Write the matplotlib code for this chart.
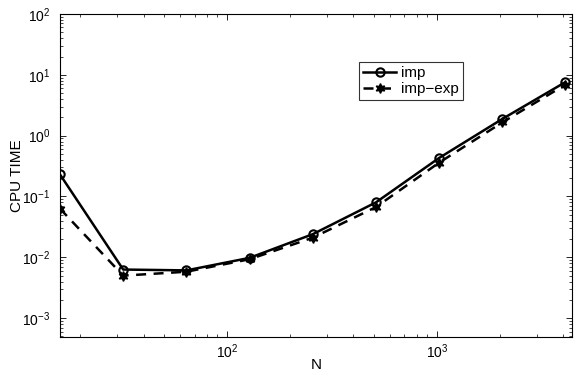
import numpy as np
import matplotlib
matplotlib.use('Agg')
import matplotlib.pyplot as plt
from matplotlib.ticker import LogLocator, NullFormatter

plt.rcParams['font.family'] = ['Liberation Sans', 'DejaVu Sans']
plt.rcParams['mathtext.fontset'] = 'custom'
plt.rcParams['mathtext.rm'] = 'Liberation Sans'

N = [16, 32, 64, 128, 256, 512, 1024, 2048, 4096]
t_imp = [0.23, 0.0063, 0.0061, 0.0098, 0.024, 0.080, 0.43, 1.88, 7.6]
t_imp_exp = [0.063, 0.0050, 0.0058, 0.0093, 0.021, 0.067, 0.36, 1.65, 6.9]

fig = plt.figure(figsize=(5.81, 3.74), dpi=100)
ax = fig.add_axes([0.1033, 0.0989, 0.8812, 0.8637])

ax.loglog(N, t_imp, 'k-', marker='o', markersize=6, markerfacecolor='none',
          markeredgewidth=1.5, linewidth=1.8, label='imp')
ax.loglog(N, t_imp_exp, 'k--', marker=(6, 1, 0), markersize=7,
          linewidth=1.8, dashes=(4, 3), label='imp\u2212exp')

ax.set_xlim(16, 4400)
ax.set_ylim(4.9e-4, 100)

ax.yaxis.set_major_locator(LogLocator(base=10, numticks=10))
ax.yaxis.set_minor_locator(LogLocator(base=10, subs=np.arange(2, 10), numticks=20))
ax.xaxis.set_minor_locator(LogLocator(base=10, subs=np.arange(2, 10), numticks=20))
ax.xaxis.set_minor_formatter(NullFormatter())

ax.tick_params(which='both', direction='in', top=True, right=True, labelsize=10)
ax.tick_params(which='major', length=4, width=0.6)
ax.tick_params(axis='y', which='major', pad=7)
ax.tick_params(axis='x', which='major', pad=4)
ax.tick_params(which='minor', length=2.5, width=0.5)
for s in ax.spines.values():
    s.set_linewidth(0.8)

ax.set_xlabel('N', fontsize=11, va='center')
ax.xaxis.set_label_coords(0.5, -0.088)
ax.set_ylabel('CPU TIME', fontsize=11, va='center')
ax.yaxis.set_label_coords(-0.084, 0.5)

leg = ax.legend(loc='upper left', bbox_to_anchor=(0.584, 0.851), fontsize=11,
                frameon=True, fancybox=False, edgecolor='black',
                handlelength=2.2, borderpad=0.25, labelspacing=0.15,
                handletextpad=0.3, borderaxespad=0)
leg.get_frame().set_linewidth(0.8)

fig.savefig('out.png', dpi=100)
